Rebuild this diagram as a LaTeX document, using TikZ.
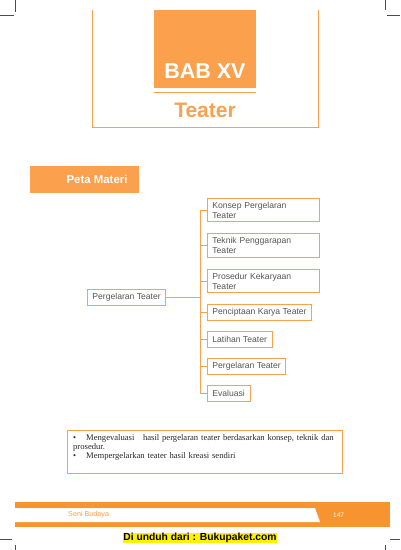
\documentclass[tikz,border=0pt]{standalone}
\usepackage{fontspec}
\setmainfont{Liberation Sans}
\newfontfamily\bodyserif{Liberation Serif}
\definecolor{babnaranja}{RGB}{251,160,76}
\definecolor{bandnaranja}{RGB}{247,148,48}
\definecolor{boxtext}{RGB}{85,85,85}
\begin{document}
\begin{tikzpicture}[x=1pt,y=-1pt,
  topic/.style={draw=babnaranja,line width=0.8pt,fill=white,text=boxtext,
    font=\fontsize{8.6}{10}\selectfont,inner xsep=5pt,inner ysep=3.5pt,
    minimum height=16pt,anchor=west,align=left},
  twoline/.style={topic,text width=102pt},
  link/.style={draw=babnaranja,line width=0.8pt},
  cropmark/.style={draw=black!70,line width=0.5pt}]
\useasboundingbox (0,0) rectangle (400,550);

\draw[cropmark] (0,15) -- (14,15) (15.5,0) -- (15.5,12);
\draw[cropmark] (387,15) -- (400,15) (385,0) -- (385,10);
\draw[cropmark] (0,539) -- (12,539) (15,545) -- (15,550);
\draw[cropmark] (390,539) -- (400,539) (385,545) -- (385,550);

\draw[babnaranja,line width=0.9pt] (92,10) -- (92,127) -- (318,127) -- (318,10);
\fill[babnaranja] (154,10) rectangle (256,88);
\node[text=white,font=\fontsize{21.5}{24}\selectfont\bfseries] (bab) at (205,71) {BAB XV};
\draw[babnaranja,line width=1pt] (154,92) -- (256,92);
\node[text=babnaranja,font=\fontsize{21}{24}\selectfont\bfseries] (judul) at (205,110) {Teater};

\fill[babnaranja] (30,166) rectangle (139,193);
\node[text=white,font=\fontsize{11.4}{13}\selectfont\bfseries,anchor=east] (peta) at (131,179) {Peta Materi};

\node[topic] (root) at (87,297) {Pergelaran Teater};
\coordinate (trunk) at (200,297);
\node[twoline] (konsep) at (207,210) {Konsep Pergelaran\\Teater};
\node[twoline] (teknik) at (207,245.5) {Teknik Penggarapan\\Teater};
\node[twoline] (prosedur) at (207,281) {Prosedur Kekaryaan\\Teater};
\node[topic] (cipta) at (207,312) {Penciptaan Karya Teater};
\node[topic] (latihan) at (207,339) {Latihan Teater};
\node[topic] (gelar) at (207,366) {Pergelaran Teater};
\node[topic] (evaluasi) at (207,393) {Evaluasi};

\draw[link] (root.east) -- (trunk);
\foreach \n in {konsep,teknik,prosedur,cipta,latihan,gelar,evaluasi}
  \draw[link] (trunk) |- (\n.west);

\node[draw=babnaranja,line width=0.8pt,minimum width=275pt,minimum height=43pt,anchor=north west] (tujuan) at (67,430) {};
\node[anchor=north west,text width=272pt,inner sep=0pt,text=black!85,
  font=\bodyserif\fontsize{8.6}{9.2}\selectfont] (tujuantext) at ([xshift=6pt,yshift=-4pt]tujuan.north west)
  {\hangindent=13pt\hangafter=1\noindent\makebox[13pt][l]{\textbullet}Mengevaluasi\ \ \ hasil pergelaran teater berdasarkan konsep, teknik dan\\prosedur.\par
   \noindent\makebox[13pt][l]{\textbullet}Mempergelarkan teater hasil kreasi sendiri\par};

\fill[bandnaranja] (15,502) rectangle (390,527);
\fill[white] (15,508) -- (315,508) -- (320,522) -- (15,522) -- cycle;
\node[text=babnaranja,font=\fontsize{7.2}{8}\selectfont,anchor=west,inner sep=0pt] (buku) at (68,515) {Seni Budaya};
\node[text=white,font=\fontsize{6.5}{8}\selectfont,anchor=west,inner sep=0pt] (halaman) at (333,515) {147};
\node[fill=yellow,inner sep=0.6pt,font=\fontsize{10.3}{12}\selectfont\bfseries] (unduh) at (200,538) {Di unduh dari : Bukupaket.com};
\end{tikzpicture}
\end{document}
